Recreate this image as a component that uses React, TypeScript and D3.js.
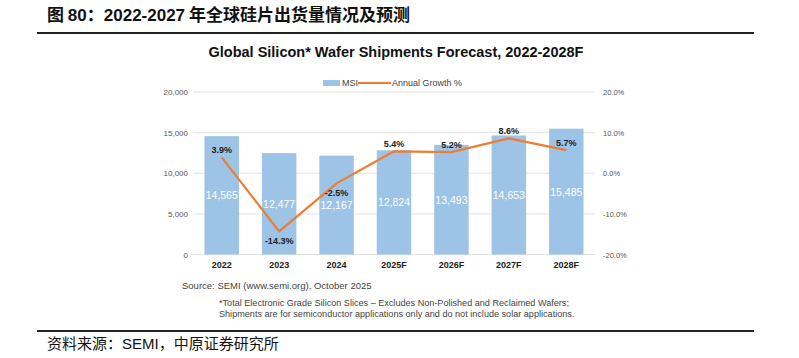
import React from "react";
import * as d3 from "d3";

const categories = ["2022", "2023", "2024", "2025F", "2026F", "2027F", "2028F"];
const msi = [14565, 12477, 12167, 12824, 13493, 14653, 15485];
const growth = [3.9, -14.3, -2.5, 5.4, 5.2, 8.6, 5.7];
const labelBelow = [false, true, true, false, false, false, false];
const leftTicks = [0, 5000, 10000, 15000, 20000];
const rightTicks = [-20, -10, 0, 10, 20];

const W = 799, H = 358;
const plotL = 193, plotR = 595, plotT = 92, plotB = 254.5;
const BLUE = "#9DC3E6";
const ORANGE = "#ED7D31";
const SANS = "'Liberation Sans', Arial, sans-serif";
const CJK = "'Noto Sans CJK SC', 'Liberation Sans', sans-serif";

export default function App() {
  const x = d3.scaleBand<string>().domain(categories).range([plotL, plotR]).paddingInner(0.4).paddingOuter(0.2);
  const yL = d3.scaleLinear().domain([0, 20000]).range([plotB, plotT]);
  const yR = d3.scaleLinear().domain([-20, 20]).range([plotB, plotT]);
  const fmt = d3.format(",");
  const line = d3
    .line<number>()
    .x((_, i) => (x(categories[i]) as number) + x.bandwidth() / 2)
    .y((d) => yR(d));

  return (
    <svg width={W} height={H} style={{ position: "absolute", left: 0, top: 0, background: "#fff" }}>
      <rect x={0} y={0} width={W} height={H} fill="#fff" />
      <text x={47} y={21} fontFamily={CJK} fontWeight="bold" fontSize={17} fill="#111">
        图 <tspan fontFamily={SANS}>80</tspan>：<tspan fontFamily={SANS}>2022-2027</tspan> 年全球硅片出货量情况及预测
      </text>
      <line x1={37} x2={754} y1={33} y2={33} stroke="#222" strokeWidth={2} />

      <text x={396} y={57} textAnchor="middle" fontFamily={SANS} fontWeight="bold" fontSize={14.5} fill="#111">
        Global Silicon* Wafer Shipments Forecast, 2022-2028F
      </text>

      {/* legend */}
      <rect x={323} y={80} width={17} height={6} fill={BLUE} />
      <text x={342} y={86} fontFamily={SANS} fontSize={9} fill="#444">MSI</text>
      <line x1={358} x2={391} y1={83} y2={83} stroke={ORANGE} strokeWidth={2} />
      <text x={392} y={86} fontFamily={SANS} fontSize={9} fill="#444">Annual Growth %</text>

      {/* grid */}
      {leftTicks.map((t) => (
        <g key={t}>
          <line x1={plotL} x2={plotR} y1={yL(t)} y2={yL(t)} stroke="#e2e2e2" strokeWidth={1} />
          <text x={188} y={yL(t) + 3} textAnchor="end" fontFamily={SANS} fontSize={8} fill="#555">
            {fmt(t)}
          </text>
        </g>
      ))}
      {rightTicks.map((t) => (
        <text key={t} x={603} y={yR(t) + 3} fontFamily={SANS} fontSize={7.5} fill="#555">
          {t.toFixed(1) + "%"}
        </text>
      ))}

      {/* bars */}
      {categories.map((c, i) => (
        <g key={c}>
          <rect x={x(c)} y={yL(msi[i])} width={x.bandwidth()} height={plotB - yL(msi[i])} fill={BLUE} />
          <text
            x={(x(c) as number) + x.bandwidth() / 2}
            y={yL(msi[i] / 2) + 4}
            textAnchor="middle"
            fontFamily={SANS}
            fontSize={10.5}
            fill="#fff"
          >
            {fmt(msi[i])}
          </text>
          <text
            x={(x(c) as number) + x.bandwidth() / 2}
            y={268}
            textAnchor="middle"
            fontFamily={SANS}
            fontWeight="bold"
            fontSize={9}
            fill="#222"
          >
            {c}
          </text>
        </g>
      ))}

      <path d={line(growth) as string} fill="none" stroke={ORANGE} strokeWidth={2.2} strokeLinejoin="round" />
      {growth.map((g, i) => (
        <text
          key={i}
          x={(x(categories[i]) as number) + x.bandwidth() / 2}
          y={labelBelow[i] ? yR(g) + 13 : yR(g) - 4}
          textAnchor="middle"
          fontFamily={SANS}
          fontWeight="bold"
          fontSize={9}
          fill="#222"
        >
          {g.toFixed(1) + "%"}
        </text>
      ))}

      <text x={182} y={289} fontFamily={SANS} fontSize={9.5} fill="#444">
        Source: SEMI (www.semi.org), October 2025
      </text>
      <text x={219} y={306} fontFamily={SANS} fontSize={9.1} fill="#444">
        *Total Electronic Grade Silicon Slices – Excludes Non-Polished and Reclaimed Wafers;
      </text>
      <text x={219} y={317} fontFamily={SANS} fontSize={9.1} fill="#444">
        Shipments are for semiconductor applications only and do not include solar applications.
      </text>

      <line x1={37} x2={754} y1={331} y2={331} stroke="#222" strokeWidth={2} />
      <text x={47} y={349} fontFamily={CJK} fontSize={15} fill="#111">
        资料来源：<tspan fontFamily={SANS}>SEMI</tspan>，中原证券研究所
      </text>
    </svg>
  );
}
